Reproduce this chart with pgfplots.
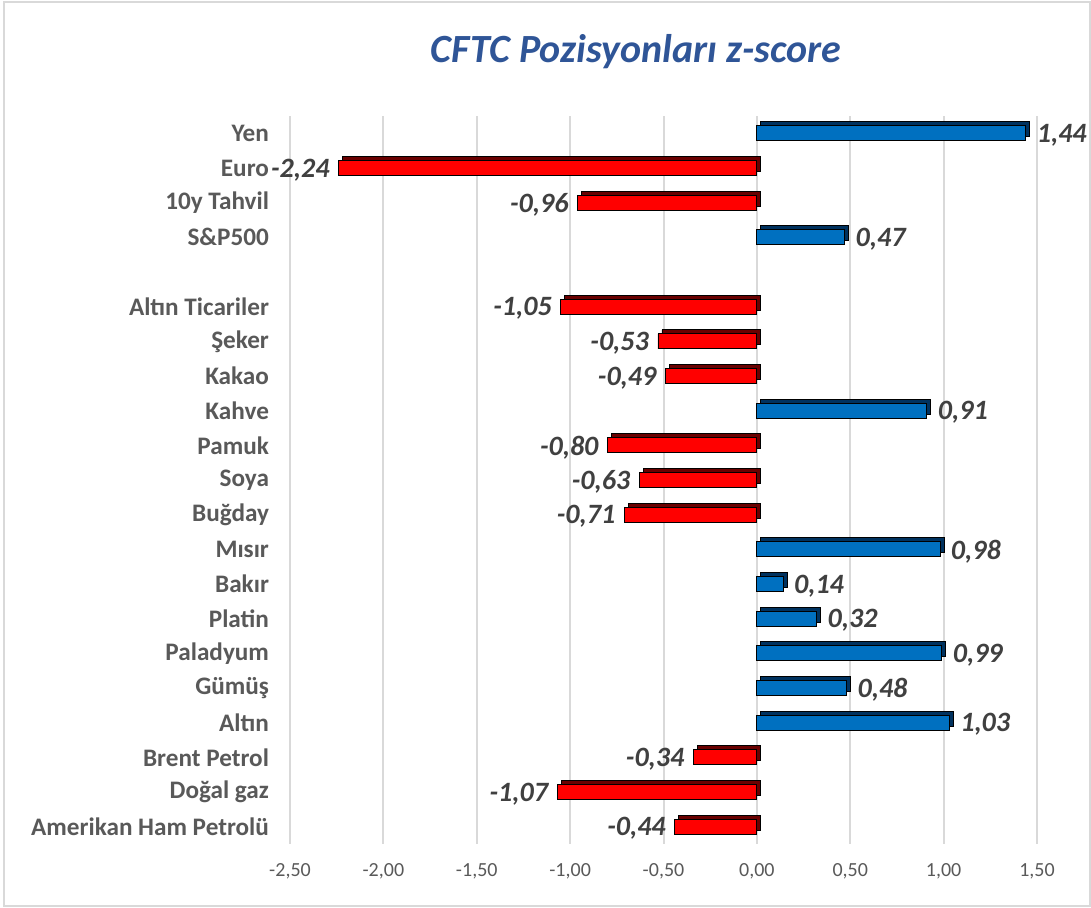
\documentclass[border=0pt]{standalone}
\usepackage{fontspec}
\setmainfont{Carlito}
\usepackage{pgfplots}
\pgfplotsset{compat=1.18}
\definecolor{barblue}{RGB}{0,112,192}
\definecolor{bluetop}{RGB}{0,50,95}
\definecolor{barred}{RGB}{255,0,0}
\definecolor{redtop}{RGB}{105,0,0}
\definecolor{titleblue}{RGB}{47,85,151}
\definecolor{labelgray}{RGB}{89,89,89}
\definecolor{valgray}{RGB}{64,64,64}
\definecolor{gridgray}{RGB}{217,217,217}

\begin{document}
\begin{tikzpicture}
\path[use as bounding box] (0,0) rectangle (545.5pt,454pt);
\draw[gridgray, line width=1pt] (2pt,1pt) rectangle (545pt,453pt);

\node[font=\fontsize{20}{24}\selectfont\bfseries\itshape, text=titleblue] at (318pt,428pt) {CFTC Pozisyonları z-score};

\begin{axis}[
    at={(145pt,32pt)}, anchor=south west,
    scale only axis,
    width=373.5pt, height=364pt,
    xmin=-2.5, xmax=1.5,
    ymin=-0.5, ymax=20.5,
    xtick={-2.5,-2,-1.5,-1,-0.5,0,0.5,1,1.5},
    ytick={0,1,2,3,4,5,6,7,8,9,10,11,12,13,14,15,17,18,19,20},
    yticklabels={Amerikan Ham Petrolü, Doğal gaz, Brent Petrol, Altın, Gümüş, Paladyum, Platin, Bakır, Mısır, Buğday, Soya~, Pamuk, Kahve, Kakao, Şeker, Altın Ticariler~, S\&P500, 10y Tahvil, Euro, Yen},
    /pgf/number format/.cd, use comma, fixed, fixed zerofill, precision=2, assume math mode=true,
    /pgfplots/.cd,
    xticklabel style={font=\fontsize{10}{12}\selectfont, text=labelgray, yshift=-6pt},
    yticklabel style={font=\fontsize{12.6}{14}\selectfont\bfseries, text=labelgray, xshift=-7pt},
    axis line style={draw=none},
    major tick length=0pt,
    xmajorgrids,
    grid style={gridgray, line width=1pt},
    clip=false,
    point meta=x,
]
% back faces (3D depth)
\addplot[xbar, bar width=7.5pt, bar shift=0pt, fill=bluetop, draw=black, line width=0.4pt, xshift=2pt, yshift=2pt]
  coordinates {(1.44,20) (0.47,17) (0.91,12) (0.98,8) (0.14,7) (0.32,6) (0.99,5) (0.48,4) (1.03,3)};
\addplot[xbar, bar width=7.5pt, bar shift=0pt, fill=redtop, draw=black, line width=0.4pt, xshift=2pt, yshift=2pt]
  coordinates {(-2.24,19) (-0.96,18) (-1.05,15) (-0.53,14) (-0.49,13) (-0.80,11) (-0.63,10) (-0.71,9) (-0.34,2) (-1.07,1) (-0.44,0)};
% front faces
\addplot[xbar, bar width=7.5pt, bar shift=0pt, fill=barblue, draw=black, line width=0.4pt,
  nodes near coords, nodes near coords style={anchor=west, xshift=2pt, yshift=-1pt, text=valgray, font=\fontsize{14}{16}\selectfont\bfseries\itshape}]
  coordinates {(1.44,20) (0.47,17) (0.91,12) (0.98,8) (0.14,7) (0.32,6) (0.99,5) (0.48,4) (1.03,3)};
\addplot[xbar, bar width=7.5pt, bar shift=0pt, fill=barred, draw=black, line width=0.4pt,
  nodes near coords, nodes near coords style={anchor=east, xshift=-1pt, yshift=-1pt, text=valgray, font=\fontsize{14}{16}\selectfont\bfseries\itshape}]
  coordinates {(-2.24,19) (-0.96,18) (-1.05,15) (-0.53,14) (-0.49,13) (-0.80,11) (-0.63,10) (-0.71,9) (-0.34,2) (-1.07,1) (-0.44,0)};
\end{axis}
\end{tikzpicture}
\end{document}
